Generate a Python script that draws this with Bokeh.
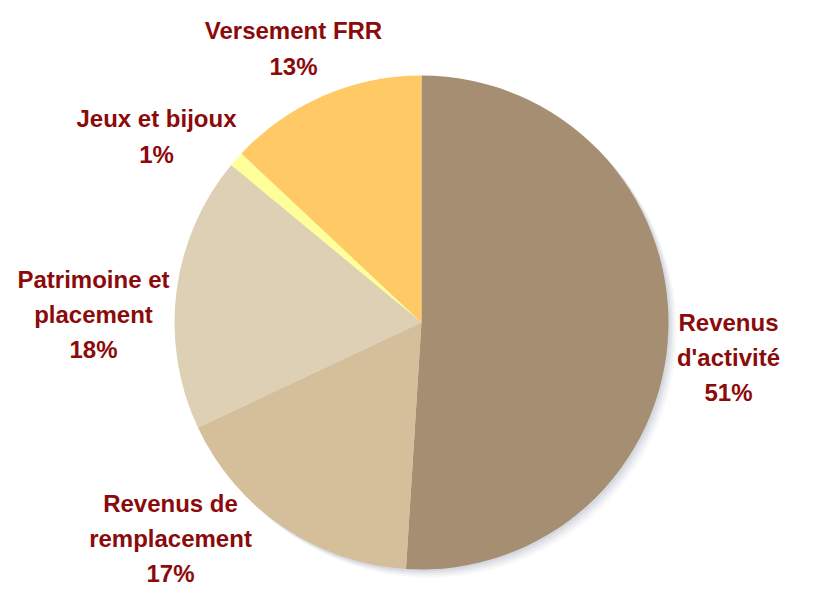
import math
from bokeh.plotting import figure
from bokeh.models import Range1d, ColumnDataSource
from bokeh.core.properties import value
from bokeh.embed import file_html
from bokeh.resources import INLINE

categories = ["Revenus d'activité", "Revenus de remplacement", "Patrimoine et placement",
              "Jeux et bijoux", "Versement FRR"]
label_texts = ["Revenus\nd'activité", "Revenus de\nremplacement", "Patrimoine et\nplacement",
               "Jeux et bijoux", "Versement FRR"]
shares = [51, 17, 18, 1, 13]
colors = ["#A68E72", "#D4BF9A", "#DDD0B5", "#FFFF99", "#FFC966"]

W, H = 798, 592
# layout (pixel-like data units; y up)
cx, cy, R = 421, 270, 247
label_pos = [(728, 235), (170, 54), (93, 278), (156, 456), (293, 544)]

total = float(sum(shares))
starts, ends = [], []
cum = 0.0
for v in shares:
    starts.append(math.pi / 2 - 2 * math.pi * cum / total)
    cum += v
    ends.append(math.pi / 2 - 2 * math.pi * cum / total)

p = figure(width=W, height=H, output_backend="svg", toolbar_location=None,
           x_range=Range1d(0, W), y_range=Range1d(0, H), min_border=0)
p.axis.visible = False
p.grid.visible = False
p.outline_line_color = None
p.background_fill_color = "white"

# soft shadow
for off, a in [(8, 0.05), (6, 0.07), (4, 0.09), (2, 0.1)]:
    p.circle(x=[cx + off], y=[cy - off], radius=R, fill_color="#6E7F94",
             fill_alpha=a, line_color=None)

src = ColumnDataSource(dict(start=starts, end=ends, color=colors, cat=categories))
p.wedge(x=cx, y=cy, radius=R, start_angle="start", end_angle="end",
        direction="clock", fill_color="color", line_color=None, source=src)

lbl = ColumnDataSource(dict(
    x=[q[0] for q in label_pos], y=[q[1] for q in label_pos],
    text=[t + "\n" + str(v) + "%" for t, v in zip(label_texts, shares)]))
p.text(x="x", y="y", text="text", source=lbl, text_align="center",
       text_baseline="middle", text_color="#8B0A0A", text_font_size="24px",
       text_font_style="bold", text_line_height=1.3,
       text_font=value("Liberation Sans"))

open("out.html", "w").write(file_html(p, INLINE))
